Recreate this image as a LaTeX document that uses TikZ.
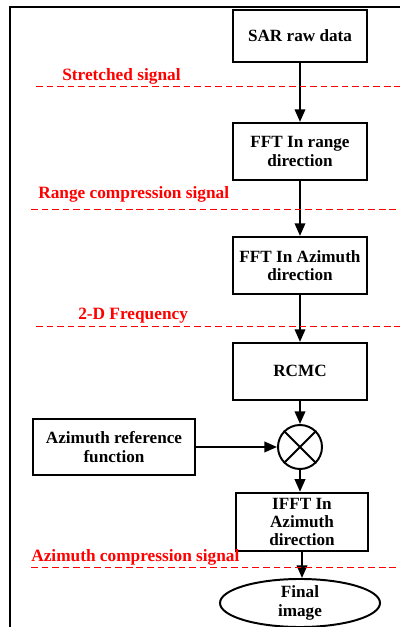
\documentclass[tikz,border=0pt]{standalone}
\usepackage{fontspec}
\setmainfont{Liberation Serif}
\usepackage{xcolor}
\usetikzlibrary{arrows.meta,positioning,calc,shapes.geometric}
\definecolor{sigred}{RGB}{255,0,0}

\begin{document}
\begin{tikzpicture}[
    blk/.style={draw, line width=1.4pt, minimum width=3.35cm, minimum height=1.425cm, align=center, font=\fontsize{12.2}{13}\selectfont\bfseries},
    sig/.style={anchor=west, text=sigred, font=\fontsize{12.3}{13}\selectfont\bfseries, inner sep=0pt},
    sep/.style={draw=sigred, line width=0.7pt, dash pattern=on 4.7pt off 2.8pt},
    flow/.style={line width=1.4pt, -{Triangle[length=9pt, width=7.5pt]}}
]
\useasboundingbox (0,0) rectangle (10,15.675);
% frame
\draw[line width=1.4pt] (0.25,0) -- (0.25,15.5) -- (10,15.5);

\node[blk, minimum height=1.3cm] (raw) at (7.5, 14.775) {SAR raw data};
\node[blk] (fftr) at (7.5, 11.89) {FFT In range\\direction};
\node[blk] (ffta) at (7.5, 9.04) {FFT In Azimuth\\direction};
\node[blk] (rcmc) at (7.5, 6.39) {RCMC};
\node[draw, circle, line width=1.4pt, minimum size=1.1cm, inner sep=0pt] (mult) at (7.5, 4.5) {};
\draw[line width=1.4pt] (mult.north west) -- (mult.south east)
    (mult.north east) -- (mult.south west);
\node[blk, minimum width=4.05cm, minimum height=1.4cm] (azref) at (2.85, 4.5) {Azimuth reference\\function};
\node[blk, minimum width=3.3cm, minimum height=1.45cm] (ifft) at (7.55, 2.63) {IFFT In\\Azimuth\\direction};
\node[blk, ellipse, minimum width=4cm, minimum height=1.1cm, inner sep=0pt] (fin) at (7.5, 0.6) {Final\\image};

\draw[flow] (raw) -- (fftr);
\draw[flow] (fftr) -- (ffta);
\draw[flow] (ffta) -- (rcmc);
\draw[flow] (rcmc) -- (mult);
\draw[flow] (azref) -- (mult);
\draw[flow] (mult.south) -- (mult.south |- ifft.north);
\draw[flow] (ifft.south) -- (ifft.south |- fin.north);

% signal stages
\node[sig] (s1) at (1.55, 13.775) {Stretched signal};
\draw[sep] (0.9, 13.525) -- (10, 13.525);
\node[sig] (s2) at (0.95, 10.825) {Range compression signal};
\draw[sep] (0.775, 10.45) -- (10, 10.45);
\node[sig] (s3) at (1.95, 7.775) {2-D Frequency};
\draw[sep] (0.9, 7.525) -- (10, 7.525);
\node[sig] (s4) at (0.775, 1.75) {Azimuth compression signal};
\draw[sep] (0.775, 1.5) -- (10, 1.5);

\end{tikzpicture}
\end{document}
